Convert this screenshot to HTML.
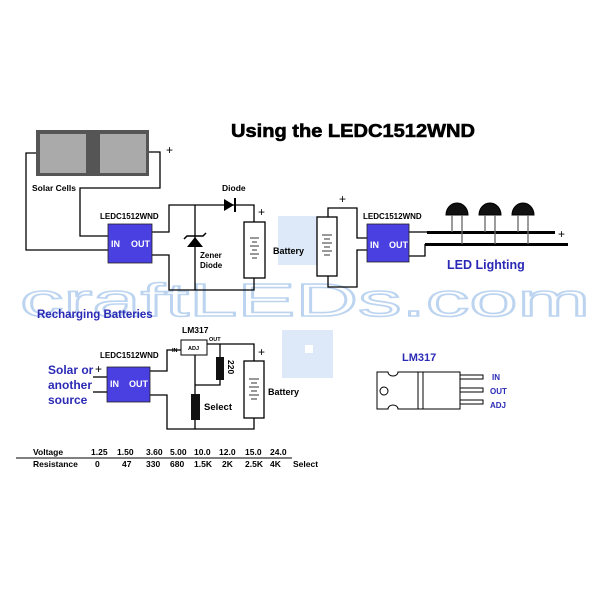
<!DOCTYPE html><html><head><style>body{margin:0;background:#fff}svg{display:block}text{font-family:"Liberation Sans",Arial,sans-serif}</style></head><body>
<svg width="600" height="600" viewBox="0 0 600 600" xmlns="http://www.w3.org/2000/svg">
<rect width="600" height="600" fill="#fff"/>
<rect x="278" y="216" width="42" height="49" fill="#dde9f8"/>
<rect x="282" y="330" width="51" height="48" fill="#dde9f8"/>
<rect x="305" y="345" width="8" height="8" fill="#fff"/>
<text x="20" y="316" font-size="46" fill="none" stroke="#bcd4f0" stroke-width="1.6" textLength="570" lengthAdjust="spacingAndGlyphs" font-family="Liberation Mono,monospace">craftLEDs.com</text>
<text x="231" y="137" font-size="18" font-weight="bold" textLength="244" lengthAdjust="spacingAndGlyphs" stroke="#000" stroke-width=".6">Using the LEDC1512WND</text>
<g stroke="#000" stroke-width="1.3" fill="none">
<polyline points="36,153 26,153 26,250 108,250"/>
<polyline points="149,152 160,152 160,188 80,188 80,236 108,236"/>
<polyline points="152,232 169,232 169,205 254,205 254,222"/>
<polyline points="152,255 169,255 169,290 254,290 254,278"/>
<line x1="195" y1="205" x2="195" y2="290"/>
<polyline points="328,217 328,208 357,208 357,238 367,238"/>
<polyline points="328,276 328,287 357,287 357,250 367,250"/>
<polyline points="409,232 427,232"/>
<polyline points="409,256 425,256 425,244"/>
<line x1="93" y1="377" x2="107" y2="377"/><line x1="93" y1="392" x2="107" y2="392"/>
<polyline points="150,371 167,371 167,350 181,350"/>
<polyline points="207,344 254,344 254,361"/>
<polyline points="150,395 167,395 167,429 254,429 254,418"/>
<line x1="195" y1="355" x2="195" y2="429"/>
<polyline points="220,344 220,385 195,385"/>
</g>
<rect x="36" y="130" width="113" height="46" fill="#555"/>
<rect x="40" y="134" width="46" height="39" fill="#aaa"/>
<rect x="100" y="134" width="46" height="39" fill="#aaa"/>
<text x="166" y="154" font-size="12">+</text>
<text x="32" y="191" font-size="8.5" font-weight="bold">Solar Cells</text>
<text x="100" y="219" font-size="8" font-weight="bold">LEDC1512WND</text>
<rect x="108" y="224" width="44" height="39" fill="#4a3fe0" stroke="#222" stroke-width=".8"/>
<text x="111" y="247" font-size="9" font-weight="bold" fill="#fff">IN</text><text x="131" y="247" font-size="9" font-weight="bold" fill="#fff">OUT</text>
<polygon points="224,199 224,211 234,205" fill="#000"/><line x1="235" y1="198" x2="235" y2="212" stroke="#000" stroke-width="2"/>
<text x="222" y="191" font-size="8.5" font-weight="bold">Diode</text>
<polygon points="187,247 203,247 195,237" fill="#000"/><polyline points="184,239 187,236 203,236 206,233" stroke="#000" fill="none" stroke-width="1.5"/>
<text x="200" y="258" font-size="8" font-weight="bold">Zener</text><text x="200" y="268" font-size="8" font-weight="bold">Diode</text>
<rect x="244" y="222" width="21" height="56" fill="#fff" stroke="#000" stroke-width="1.3"/>
<g stroke="#333"><line x1="250" y1="238" x2="259" y2="238"/><line x1="252" y1="242" x2="257" y2="242"/><line x1="250" y1="246" x2="259" y2="246"/><line x1="252" y1="250" x2="257" y2="250"/><line x1="250" y1="254" x2="259" y2="254"/><line x1="252" y1="258" x2="257" y2="258"/></g>
<text x="258" y="216" font-size="12">+</text>
<text x="273" y="254" font-size="9" font-weight="bold">Battery</text>
<rect x="317" y="217" width="20" height="59" fill="#fff" stroke="#000" stroke-width="1.3"/>
<g stroke="#333"><line x1="322" y1="235" x2="332" y2="235"/><line x1="324" y1="239" x2="330" y2="239"/><line x1="322" y1="243" x2="332" y2="243"/><line x1="324" y1="247" x2="330" y2="247"/><line x1="322" y1="251" x2="332" y2="251"/><line x1="324" y1="255" x2="330" y2="255"/></g>
<text x="339" y="203" font-size="12">+</text>
<text x="363" y="219" font-size="8" font-weight="bold">LEDC1512WND</text>
<rect x="367" y="224" width="42" height="38" fill="#4a3fe0" stroke="#222" stroke-width=".8"/>
<text x="370" y="248" font-size="9" font-weight="bold" fill="#fff">IN</text><text x="389" y="248" font-size="9" font-weight="bold" fill="#fff">OUT</text>
<rect x="427" y="231" width="128" height="3" fill="#000"/>
<rect x="425" y="243" width="143" height="3" fill="#000"/>
<text x="558" y="238" font-size="12">+</text>
<g fill="#111" stroke="#000">
<path d="M446,215 a11,12 0 0 1 22,0 z"/><path d="M479,215 a11,12 0 0 1 22,0 z"/><path d="M512,215 a11,12 0 0 1 22,0 z"/>
</g>
<g stroke="#666" stroke-width="1.3"><line x1="452" y1="215" x2="452" y2="232"/><line x1="462" y1="215" x2="462" y2="244"/><line x1="485" y1="215" x2="485" y2="232"/><line x1="495" y1="215" x2="495" y2="244"/><line x1="518" y1="215" x2="518" y2="232"/><line x1="528" y1="215" x2="528" y2="244"/></g>
<text x="447" y="269" font-size="12.5" font-weight="bold" fill="#2b2ab5">LED Lighting</text>
<text x="37" y="318" font-size="11.5" font-weight="bold" fill="#2b2ab5">Recharging Batteries</text>
<text x="182" y="333" font-size="8.5" font-weight="bold">LM317</text>
<rect x="181" y="340" width="26" height="15" fill="#fff" stroke="#000"/>
<text x="188" y="350" font-size="5.5" font-weight="bold">ADJ</text>
<text x="172" y="352" font-size="5.5" font-weight="bold">IN</text>
<text x="209" y="341" font-size="5.5" font-weight="bold">OUT</text>
<rect x="216" y="357" width="8" height="23" fill="#111"/>
<text x="228" y="360" font-size="8.5" font-weight="bold" transform="rotate(90 228 360)">220</text>
<rect x="191" y="394" width="9" height="26" fill="#111"/>
<text x="204" y="410" font-size="9.5" font-weight="bold">Select</text>
<rect x="244" y="361" width="20" height="57" fill="#fff" stroke="#000" stroke-width="1.3"/>
<g stroke="#333"><line x1="249" y1="379" x2="259" y2="379"/><line x1="251" y1="383" x2="257" y2="383"/><line x1="249" y1="387" x2="259" y2="387"/><line x1="251" y1="391" x2="257" y2="391"/><line x1="249" y1="395" x2="259" y2="395"/><line x1="251" y1="399" x2="257" y2="399"/></g>
<text x="258" y="356" font-size="12">+</text>
<text x="268" y="395" font-size="9" font-weight="bold">Battery</text>
<text x="100" y="358" font-size="8" font-weight="bold">LEDC1512WND</text>
<rect x="107" y="367" width="43" height="35" fill="#4a3fe0" stroke="#222" stroke-width=".8"/>
<text x="110" y="387" font-size="9" font-weight="bold" fill="#fff">IN</text><text x="129" y="387" font-size="9" font-weight="bold" fill="#fff">OUT</text>
<text x="95" y="373" font-size="12">+</text>
<g font-size="12" font-weight="bold" fill="#2b2ab5"><text x="48" y="374">Solar or</text><text x="48" y="389">another</text><text x="48" y="404">source</text></g>
<line x1="16" y1="458" x2="292" y2="458" stroke="#000"/>
<g font-size="8.5" font-weight="bold">
<text x="33" y="455">Voltage</text><text x="91" y="455">1.25</text><text x="117" y="455">1.50</text><text x="146" y="455">3.60</text><text x="170" y="455">5.00</text><text x="194" y="455">10.0</text><text x="219" y="455">12.0</text><text x="245" y="455">15.0</text><text x="270" y="455">24.0</text>
<text x="33" y="467">Resistance</text><text x="95" y="467">0</text><text x="122" y="467">47</text><text x="146" y="467">330</text><text x="170" y="467">680</text><text x="194" y="467">1.5K</text><text x="222" y="467">2K</text><text x="245" y="467">2.5K</text><text x="270" y="467">4K</text><text x="293" y="467">Select</text>
</g>
<text x="402" y="361" font-size="11" font-weight="bold" fill="#2b2ab5">LM317</text>
<path d="M377,372 H388 a5,4 0 0 0 10,0 H460 V409 H398 a5,4 0 0 0 -10,0 H377 Z" fill="#fff" stroke="#000"/>
<line x1="418" y1="372" x2="418" y2="409" stroke="#000"/><line x1="423" y1="372" x2="423" y2="409" stroke="#000"/>
<circle cx="384" cy="391" r="4" fill="#fff" stroke="#000"/>
<g fill="#fff" stroke="#000"><rect x="460" y="375" width="23" height="4"/><rect x="460" y="388" width="23" height="4"/><rect x="460" y="400" width="23" height="4"/></g>
<g font-size="8" font-weight="bold" fill="#2b2ab5"><text x="492" y="380">IN</text><text x="490" y="394">OUT</text><text x="490" y="408">ADJ</text></g>
</svg></body></html>
